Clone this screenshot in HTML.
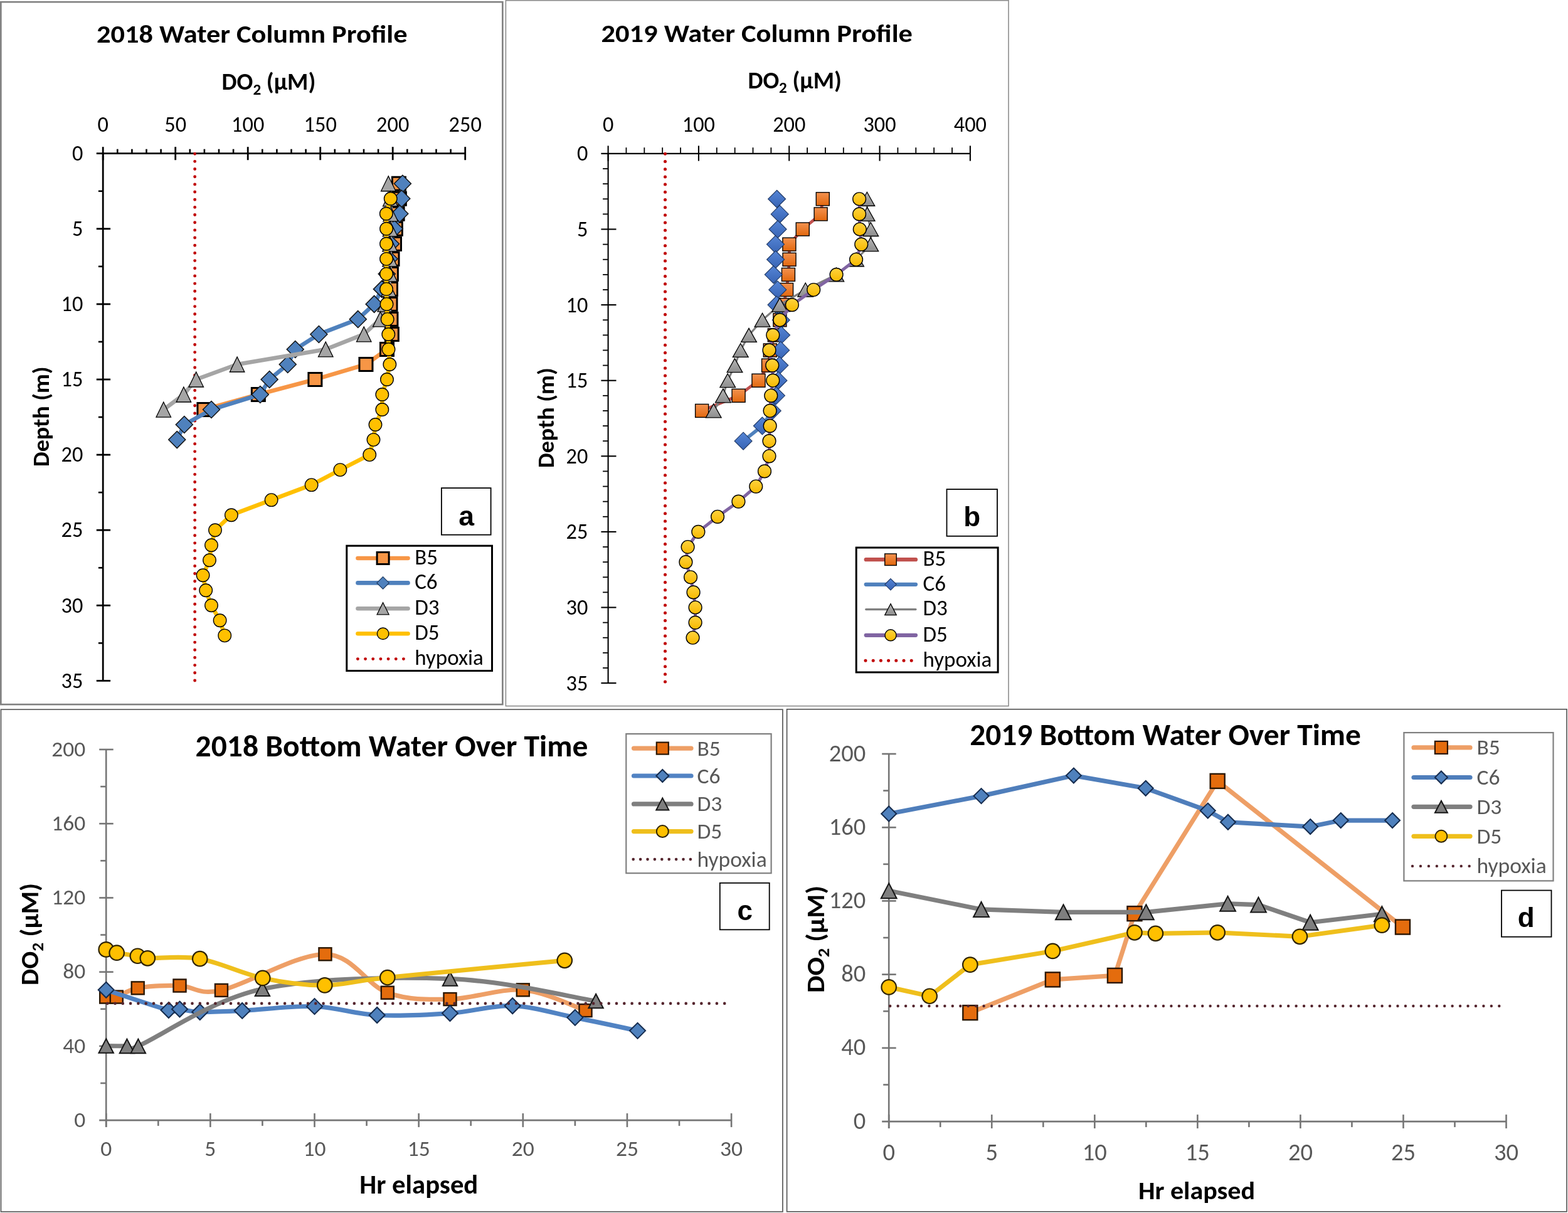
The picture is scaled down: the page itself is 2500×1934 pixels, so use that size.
<!DOCTYPE html>
<html><head><meta charset="utf-8"><title>Dissolved oxygen profiles</title>
<style>html,body{margin:0;padding:0;background:#fff;}svg{display:block;}</style>
</head><body>
<svg xmlns="http://www.w3.org/2000/svg" width="2500" height="1934" viewBox="0 0 2500 1934">
<rect x="0" y="0" width="2500" height="1934" fill="#fff"/>
<defs>
<linearGradient id="gOr" x1="0" y1="0" x2="0" y2="1"><stop offset="0" stop-color="#F49250"/><stop offset="1" stop-color="#E2680E"/></linearGradient>
<linearGradient id="gBl" x1="0" y1="0" x2="0" y2="1"><stop offset="0" stop-color="#5585D6"/><stop offset="1" stop-color="#3864B4"/></linearGradient>
<linearGradient id="gGr" x1="0" y1="0" x2="0" y2="1"><stop offset="0" stop-color="#B4B4B4"/><stop offset="1" stop-color="#8E8E8E"/></linearGradient>
<linearGradient id="gYe" x1="0" y1="0" x2="0" y2="1"><stop offset="0" stop-color="#FFD33F"/><stop offset="1" stop-color="#F7B900"/></linearGradient>
<filter id="soft" x="-2%" y="-2%" width="104%" height="104%"><feGaussianBlur stdDeviation="0.55"/></filter>
</defs>
<rect x="1.35" y="3.15" width="800" height="1120" fill="none" stroke="#7F7F7F" stroke-width="2.6"/>
<text x="154.1" y="68.1" font-family="Carlito, 'Liberation Sans', sans-serif" font-size="41.2" font-weight="bold" fill="#000" text-anchor="start" textLength="495.5" lengthAdjust="spacingAndGlyphs">2018 Water Column Profile</text>
<text x="353.6" y="143.2" font-family="Carlito, 'Liberation Sans', sans-serif" font-size="37.5" font-weight="bold" fill="#000" textLength="149.7" lengthAdjust="spacingAndGlyphs">DO<tspan font-size="24.75" dy="7.5">2</tspan><tspan dy="-7.5"> (µM)</tspan></text>
<text transform="translate(77.8 664.3) rotate(-90)" x="0" y="0" font-family="Carlito, 'Liberation Sans', sans-serif" font-size="37" font-weight="bold" fill="#000" text-anchor="middle" textLength="160" lengthAdjust="spacingAndGlyphs">Depth (m)</text>
<g stroke="#000" stroke-width="2.8" fill="none">
<path d="M153.8 244.7H741.7"/>
<path d="M164.2 244.7V1085.4"/>
<path d="M164.2 234.2V255.2"/>
<path d="M187.3 237.7V244.7" stroke-width="2.6"/>
<path d="M210.4 237.7V244.7" stroke-width="2.6"/>
<path d="M233.5 237.7V244.7" stroke-width="2.6"/>
<path d="M256.6 237.7V244.7" stroke-width="2.6"/>
<path d="M279.7 234.2V255.2"/>
<path d="M302.8 237.7V244.7" stroke-width="2.6"/>
<path d="M325.9 237.7V244.7" stroke-width="2.6"/>
<path d="M349 237.7V244.7" stroke-width="2.6"/>
<path d="M372.1 237.7V244.7" stroke-width="2.6"/>
<path d="M395.2 234.2V255.2"/>
<path d="M418.3 237.7V244.7" stroke-width="2.6"/>
<path d="M441.4 237.7V244.7" stroke-width="2.6"/>
<path d="M464.5 237.7V244.7" stroke-width="2.6"/>
<path d="M487.6 237.7V244.7" stroke-width="2.6"/>
<path d="M510.7 234.2V255.2"/>
<path d="M533.8 237.7V244.7" stroke-width="2.6"/>
<path d="M556.9 237.7V244.7" stroke-width="2.6"/>
<path d="M580 237.7V244.7" stroke-width="2.6"/>
<path d="M603.1 237.7V244.7" stroke-width="2.6"/>
<path d="M626.2 234.2V255.2"/>
<path d="M649.3 237.7V244.7" stroke-width="2.6"/>
<path d="M672.4 237.7V244.7" stroke-width="2.6"/>
<path d="M695.5 237.7V244.7" stroke-width="2.6"/>
<path d="M718.6 237.7V244.7" stroke-width="2.6"/>
<path d="M741.7 234.2V255.2"/>
<path d="M156.9 304.75H164.2" stroke-width="2.6"/>
<path d="M153.8 364.8H176.1"/>
<path d="M156.9 424.85H164.2" stroke-width="2.6"/>
<path d="M153.8 484.9H176.1"/>
<path d="M156.9 544.95H164.2" stroke-width="2.6"/>
<path d="M153.8 605H176.1"/>
<path d="M156.9 665.05H164.2" stroke-width="2.6"/>
<path d="M153.8 725.1H176.1"/>
<path d="M156.9 785.15H164.2" stroke-width="2.6"/>
<path d="M153.8 845.2H176.1"/>
<path d="M156.9 905.25H164.2" stroke-width="2.6"/>
<path d="M153.8 965.3H176.1"/>
<path d="M156.9 1025.35H164.2" stroke-width="2.6"/>
<path d="M153.8 1085.4H176.1"/>
</g>
<text x="164.2" y="210.1" font-family="Carlito, 'Liberation Sans', sans-serif" font-size="34.3" font-weight="normal" fill="#000" text-anchor="middle" textLength="17.39" lengthAdjust="spacingAndGlyphs">0</text>
<text x="279.7" y="210.1" font-family="Carlito, 'Liberation Sans', sans-serif" font-size="34.3" font-weight="normal" fill="#000" text-anchor="middle" textLength="34.78" lengthAdjust="spacingAndGlyphs">50</text>
<text x="395.2" y="210.1" font-family="Carlito, 'Liberation Sans', sans-serif" font-size="34.3" font-weight="normal" fill="#000" text-anchor="middle" textLength="52.17" lengthAdjust="spacingAndGlyphs">100</text>
<text x="510.7" y="210.1" font-family="Carlito, 'Liberation Sans', sans-serif" font-size="34.3" font-weight="normal" fill="#000" text-anchor="middle" textLength="52.17" lengthAdjust="spacingAndGlyphs">150</text>
<text x="626.2" y="210.1" font-family="Carlito, 'Liberation Sans', sans-serif" font-size="34.3" font-weight="normal" fill="#000" text-anchor="middle" textLength="52.17" lengthAdjust="spacingAndGlyphs">200</text>
<text x="741.7" y="210.1" font-family="Carlito, 'Liberation Sans', sans-serif" font-size="34.3" font-weight="normal" fill="#000" text-anchor="middle" textLength="52.17" lengthAdjust="spacingAndGlyphs">250</text>
<text x="132.4" y="255.9" font-family="Carlito, 'Liberation Sans', sans-serif" font-size="34.3" font-weight="normal" fill="#000" text-anchor="end" textLength="17.39" lengthAdjust="spacingAndGlyphs">0</text>
<text x="132.4" y="376" font-family="Carlito, 'Liberation Sans', sans-serif" font-size="34.3" font-weight="normal" fill="#000" text-anchor="end" textLength="17.39" lengthAdjust="spacingAndGlyphs">5</text>
<text x="132.4" y="496.1" font-family="Carlito, 'Liberation Sans', sans-serif" font-size="34.3" font-weight="normal" fill="#000" text-anchor="end" textLength="34.78" lengthAdjust="spacingAndGlyphs">10</text>
<text x="132.4" y="616.2" font-family="Carlito, 'Liberation Sans', sans-serif" font-size="34.3" font-weight="normal" fill="#000" text-anchor="end" textLength="34.78" lengthAdjust="spacingAndGlyphs">15</text>
<text x="132.4" y="736.3" font-family="Carlito, 'Liberation Sans', sans-serif" font-size="34.3" font-weight="normal" fill="#000" text-anchor="end" textLength="34.78" lengthAdjust="spacingAndGlyphs">20</text>
<text x="132.4" y="856.4" font-family="Carlito, 'Liberation Sans', sans-serif" font-size="34.3" font-weight="normal" fill="#000" text-anchor="end" textLength="34.78" lengthAdjust="spacingAndGlyphs">25</text>
<text x="132.4" y="976.5" font-family="Carlito, 'Liberation Sans', sans-serif" font-size="34.3" font-weight="normal" fill="#000" text-anchor="end" textLength="34.78" lengthAdjust="spacingAndGlyphs">30</text>
<text x="132.4" y="1096.6" font-family="Carlito, 'Liberation Sans', sans-serif" font-size="34.3" font-weight="normal" fill="#000" text-anchor="end" textLength="34.78" lengthAdjust="spacingAndGlyphs">35</text>
<path d="M310.65 245.2V1085.4" stroke="#C00000" stroke-width="4.9" stroke-linecap="round" stroke-dasharray="0 12.17" fill="none"/>
<path d="M635.9 292.74L636.83 316.76L633.59 340.78L630.82 364.8L628.97 388.82L625.51 412.84L623.89 436.86L622.97 460.88L622.5 484.9L623.43 508.92L624.81 532.94L616.96 556.96L583.46 580.98L502.38 605L411.83 629.02L325.44 653.04" fill="none" stroke="#F79646" stroke-width="6.6" stroke-linejoin="round" stroke-linecap="round"/>
<rect x="625.4" y="282.24" width="21" height="21" fill="#F79646" stroke="#000" stroke-width="3"/>
<rect x="626.33" y="306.26" width="21" height="21" fill="#F79646" stroke="#000" stroke-width="3"/>
<rect x="623.09" y="330.28" width="21" height="21" fill="#F79646" stroke="#000" stroke-width="3"/>
<rect x="620.32" y="354.3" width="21" height="21" fill="#F79646" stroke="#000" stroke-width="3"/>
<rect x="618.47" y="378.32" width="21" height="21" fill="#F79646" stroke="#000" stroke-width="3"/>
<rect x="615.01" y="402.34" width="21" height="21" fill="#F79646" stroke="#000" stroke-width="3"/>
<rect x="613.39" y="426.36" width="21" height="21" fill="#F79646" stroke="#000" stroke-width="3"/>
<rect x="612.47" y="450.38" width="21" height="21" fill="#F79646" stroke="#000" stroke-width="3"/>
<rect x="612" y="474.4" width="21" height="21" fill="#F79646" stroke="#000" stroke-width="3"/>
<rect x="612.93" y="498.42" width="21" height="21" fill="#F79646" stroke="#000" stroke-width="3"/>
<rect x="614.31" y="522.44" width="21" height="21" fill="#F79646" stroke="#000" stroke-width="3"/>
<rect x="606.46" y="546.46" width="21" height="21" fill="#F79646" stroke="#000" stroke-width="3"/>
<rect x="572.96" y="570.48" width="21" height="21" fill="#F79646" stroke="#000" stroke-width="3"/>
<rect x="491.88" y="594.5" width="21" height="21" fill="#F79646" stroke="#000" stroke-width="3"/>
<rect x="401.33" y="618.52" width="21" height="21" fill="#F79646" stroke="#000" stroke-width="3"/>
<rect x="314.94" y="642.54" width="21" height="21" fill="#F79646" stroke="#000" stroke-width="3"/>
<path d="M641.91 292.74L640.29 316.76L637.29 340.78L628.74 364.8L622.97 388.82L620.42 412.84L616.73 436.86L608.88 460.88L596.63 484.9L570.76 508.92L508.39 532.94L470.74 556.96L458.73 580.98L429.62 605L414.84 629.02L336.99 653.04L293.79 677.06L282.24 701.08" fill="none" stroke="#4F81BD" stroke-width="6.6" stroke-linejoin="round" stroke-linecap="round"/>
<path d="M641.91 279.24L655.41 292.74L641.91 306.24L628.41 292.74Z" fill="#4F81BD" stroke="#141414" stroke-width="1.5" stroke-linejoin="miter"/>
<path d="M640.29 303.26L653.79 316.76L640.29 330.26L626.79 316.76Z" fill="#4F81BD" stroke="#141414" stroke-width="1.5" stroke-linejoin="miter"/>
<path d="M637.29 327.28L650.79 340.78L637.29 354.28L623.79 340.78Z" fill="#4F81BD" stroke="#141414" stroke-width="1.5" stroke-linejoin="miter"/>
<path d="M628.74 351.3L642.24 364.8L628.74 378.3L615.24 364.8Z" fill="#4F81BD" stroke="#141414" stroke-width="1.5" stroke-linejoin="miter"/>
<path d="M622.97 375.32L636.47 388.82L622.97 402.32L609.47 388.82Z" fill="#4F81BD" stroke="#141414" stroke-width="1.5" stroke-linejoin="miter"/>
<path d="M620.42 399.34L633.92 412.84L620.42 426.34L606.92 412.84Z" fill="#4F81BD" stroke="#141414" stroke-width="1.5" stroke-linejoin="miter"/>
<path d="M616.73 423.36L630.23 436.86L616.73 450.36L603.23 436.86Z" fill="#4F81BD" stroke="#141414" stroke-width="1.5" stroke-linejoin="miter"/>
<path d="M608.88 447.38L622.38 460.88L608.88 474.38L595.38 460.88Z" fill="#4F81BD" stroke="#141414" stroke-width="1.5" stroke-linejoin="miter"/>
<path d="M596.63 471.4L610.13 484.9L596.63 498.4L583.13 484.9Z" fill="#4F81BD" stroke="#141414" stroke-width="1.5" stroke-linejoin="miter"/>
<path d="M570.76 495.42L584.26 508.92L570.76 522.42L557.26 508.92Z" fill="#4F81BD" stroke="#141414" stroke-width="1.5" stroke-linejoin="miter"/>
<path d="M508.39 519.44L521.89 532.94L508.39 546.44L494.89 532.94Z" fill="#4F81BD" stroke="#141414" stroke-width="1.5" stroke-linejoin="miter"/>
<path d="M470.74 543.46L484.24 556.96L470.74 570.46L457.24 556.96Z" fill="#4F81BD" stroke="#141414" stroke-width="1.5" stroke-linejoin="miter"/>
<path d="M458.73 567.48L472.23 580.98L458.73 594.48L445.23 580.98Z" fill="#4F81BD" stroke="#141414" stroke-width="1.5" stroke-linejoin="miter"/>
<path d="M429.62 591.5L443.12 605L429.62 618.5L416.12 605Z" fill="#4F81BD" stroke="#141414" stroke-width="1.5" stroke-linejoin="miter"/>
<path d="M414.84 615.52L428.34 629.02L414.84 642.52L401.34 629.02Z" fill="#4F81BD" stroke="#141414" stroke-width="1.5" stroke-linejoin="miter"/>
<path d="M336.99 639.54L350.49 653.04L336.99 666.54L323.49 653.04Z" fill="#4F81BD" stroke="#141414" stroke-width="1.5" stroke-linejoin="miter"/>
<path d="M293.79 663.56L307.29 677.06L293.79 690.56L280.29 677.06Z" fill="#4F81BD" stroke="#141414" stroke-width="1.5" stroke-linejoin="miter"/>
<path d="M282.24 687.58L295.74 701.08L282.24 714.58L268.74 701.08Z" fill="#4F81BD" stroke="#141414" stroke-width="1.5" stroke-linejoin="miter"/>
<path d="M619.27 292.74L622.27 316.76L622.74 340.78L622.04 364.8L621.58 388.82L621.58 412.84L621.58 436.86L619.5 460.88L613.73 484.9L606.33 508.92L580.23 532.94L519.25 556.96L378.11 580.98L312.73 605L292.87 629.02L260.76 653.04" fill="none" stroke="#A5A5A5" stroke-width="6.6" stroke-linejoin="round" stroke-linecap="round"/>
<path d="M619.27 280.74L631.02 304.74L607.52 304.74Z" fill="#A5A5A5" stroke="#000" stroke-width="1.3" stroke-linejoin="miter"/>
<path d="M622.27 304.76L634.02 328.76L610.52 328.76Z" fill="#A5A5A5" stroke="#000" stroke-width="1.3" stroke-linejoin="miter"/>
<path d="M622.74 328.78L634.49 352.78L610.99 352.78Z" fill="#A5A5A5" stroke="#000" stroke-width="1.3" stroke-linejoin="miter"/>
<path d="M622.04 352.8L633.79 376.8L610.29 376.8Z" fill="#A5A5A5" stroke="#000" stroke-width="1.3" stroke-linejoin="miter"/>
<path d="M621.58 376.82L633.33 400.82L609.83 400.82Z" fill="#A5A5A5" stroke="#000" stroke-width="1.3" stroke-linejoin="miter"/>
<path d="M621.58 400.84L633.33 424.84L609.83 424.84Z" fill="#A5A5A5" stroke="#000" stroke-width="1.3" stroke-linejoin="miter"/>
<path d="M621.58 424.86L633.33 448.86L609.83 448.86Z" fill="#A5A5A5" stroke="#000" stroke-width="1.3" stroke-linejoin="miter"/>
<path d="M619.5 448.88L631.25 472.88L607.75 472.88Z" fill="#A5A5A5" stroke="#000" stroke-width="1.3" stroke-linejoin="miter"/>
<path d="M613.73 472.9L625.48 496.9L601.98 496.9Z" fill="#A5A5A5" stroke="#000" stroke-width="1.3" stroke-linejoin="miter"/>
<path d="M606.33 496.92L618.08 520.92L594.58 520.92Z" fill="#A5A5A5" stroke="#000" stroke-width="1.3" stroke-linejoin="miter"/>
<path d="M580.23 520.94L591.98 544.94L568.48 544.94Z" fill="#A5A5A5" stroke="#000" stroke-width="1.3" stroke-linejoin="miter"/>
<path d="M519.25 544.96L531 568.96L507.5 568.96Z" fill="#A5A5A5" stroke="#000" stroke-width="1.3" stroke-linejoin="miter"/>
<path d="M378.11 568.98L389.86 592.98L366.36 592.98Z" fill="#A5A5A5" stroke="#000" stroke-width="1.3" stroke-linejoin="miter"/>
<path d="M312.73 593L324.48 617L300.98 617Z" fill="#A5A5A5" stroke="#000" stroke-width="1.3" stroke-linejoin="miter"/>
<path d="M292.87 617.02L304.62 641.02L281.12 641.02Z" fill="#A5A5A5" stroke="#000" stroke-width="1.3" stroke-linejoin="miter"/>
<path d="M260.76 641.04L272.51 665.04L249.01 665.04Z" fill="#A5A5A5" stroke="#000" stroke-width="1.3" stroke-linejoin="miter"/>
<path d="M622.74 316.76L615.81 340.78L616.04 364.8L616.04 388.82L616.04 412.84L616.04 436.86L616.04 460.88L616.5 484.9L617.65 508.92L619.27 532.94L619.5 556.96L621.35 580.98L616.96 605L609.34 629.02L609.34 653.04L598.48 677.06L595.48 701.08L589.24 725.1L542.35 749.12L496.61 773.14L432.62 797.16L368.87 821.18L342.99 845.2L336.99 869.22L333.99 893.24L323.59 917.26L328.21 941.28L336.99 965.3L350.62 989.32L358.24 1013.34" fill="none" stroke="#FFC000" stroke-width="6.6" stroke-linejoin="round" stroke-linecap="round"/>
<circle cx="622.74" cy="316.76" r="10.25" fill="#FFC000" stroke="#000" stroke-width="1.4"/>
<circle cx="615.81" cy="340.78" r="10.25" fill="#FFC000" stroke="#000" stroke-width="1.4"/>
<circle cx="616.04" cy="364.8" r="10.25" fill="#FFC000" stroke="#000" stroke-width="1.4"/>
<circle cx="616.04" cy="388.82" r="10.25" fill="#FFC000" stroke="#000" stroke-width="1.4"/>
<circle cx="616.04" cy="412.84" r="10.25" fill="#FFC000" stroke="#000" stroke-width="1.4"/>
<circle cx="616.04" cy="436.86" r="10.25" fill="#FFC000" stroke="#000" stroke-width="1.4"/>
<circle cx="616.04" cy="460.88" r="10.25" fill="#FFC000" stroke="#000" stroke-width="1.4"/>
<circle cx="616.5" cy="484.9" r="10.25" fill="#FFC000" stroke="#000" stroke-width="1.4"/>
<circle cx="617.65" cy="508.92" r="10.25" fill="#FFC000" stroke="#000" stroke-width="1.4"/>
<circle cx="619.27" cy="532.94" r="10.25" fill="#FFC000" stroke="#000" stroke-width="1.4"/>
<circle cx="619.5" cy="556.96" r="10.25" fill="#FFC000" stroke="#000" stroke-width="1.4"/>
<circle cx="621.35" cy="580.98" r="10.25" fill="#FFC000" stroke="#000" stroke-width="1.4"/>
<circle cx="616.96" cy="605" r="10.25" fill="#FFC000" stroke="#000" stroke-width="1.4"/>
<circle cx="609.34" cy="629.02" r="10.25" fill="#FFC000" stroke="#000" stroke-width="1.4"/>
<circle cx="609.34" cy="653.04" r="10.25" fill="#FFC000" stroke="#000" stroke-width="1.4"/>
<circle cx="598.48" cy="677.06" r="10.25" fill="#FFC000" stroke="#000" stroke-width="1.4"/>
<circle cx="595.48" cy="701.08" r="10.25" fill="#FFC000" stroke="#000" stroke-width="1.4"/>
<circle cx="589.24" cy="725.1" r="10.25" fill="#FFC000" stroke="#000" stroke-width="1.4"/>
<circle cx="542.35" cy="749.12" r="10.25" fill="#FFC000" stroke="#000" stroke-width="1.4"/>
<circle cx="496.61" cy="773.14" r="10.25" fill="#FFC000" stroke="#000" stroke-width="1.4"/>
<circle cx="432.62" cy="797.16" r="10.25" fill="#FFC000" stroke="#000" stroke-width="1.4"/>
<circle cx="368.87" cy="821.18" r="10.25" fill="#FFC000" stroke="#000" stroke-width="1.4"/>
<circle cx="342.99" cy="845.2" r="10.25" fill="#FFC000" stroke="#000" stroke-width="1.4"/>
<circle cx="336.99" cy="869.22" r="10.25" fill="#FFC000" stroke="#000" stroke-width="1.4"/>
<circle cx="333.99" cy="893.24" r="10.25" fill="#FFC000" stroke="#000" stroke-width="1.4"/>
<circle cx="323.59" cy="917.26" r="10.25" fill="#FFC000" stroke="#000" stroke-width="1.4"/>
<circle cx="328.21" cy="941.28" r="10.25" fill="#FFC000" stroke="#000" stroke-width="1.4"/>
<circle cx="336.99" cy="965.3" r="10.25" fill="#FFC000" stroke="#000" stroke-width="1.4"/>
<circle cx="350.62" cy="989.32" r="10.25" fill="#FFC000" stroke="#000" stroke-width="1.4"/>
<circle cx="358.24" cy="1013.34" r="10.25" fill="#FFC000" stroke="#000" stroke-width="1.4"/>
<rect x="703.9" y="778.1" width="78.7" height="74.6" fill="#fff" stroke="#000" stroke-width="1.8"/>
<text x="743.6" y="838.4" font-family="'Liberation Sans', Arial, sans-serif" font-size="44.5" font-weight="bold" fill="#000" text-anchor="middle">a</text>
<rect x="552.8" y="870.2" width="231.7" height="199.3" fill="#fff" stroke="#000" stroke-width="3"/>
<path d="M570.5 890H650.5" stroke="#F79646" stroke-width="6.6" stroke-linecap="round"/>
<rect x="601.1" y="880.5" width="19" height="19" fill="#F79646" stroke="#000" stroke-width="3"/>
<text x="661.2" y="899.8" font-family="Carlito, 'Liberation Sans', sans-serif" font-size="35" font-weight="normal" fill="#000" text-anchor="start" textLength="36.77" lengthAdjust="spacingAndGlyphs">B5</text>
<path d="M570.5 929.4H650.5" stroke="#4F81BD" stroke-width="6.6" stroke-linecap="round"/>
<path d="M610.6 919.65L620.35 929.4L610.6 939.15L600.85 929.4Z" fill="#4F81BD" stroke="#1F3A60" stroke-width="1.2" stroke-linejoin="miter"/>
<text x="661.2" y="939.2" font-family="Carlito, 'Liberation Sans', sans-serif" font-size="35" font-weight="normal" fill="#000" text-anchor="start" textLength="36.39" lengthAdjust="spacingAndGlyphs">C6</text>
<path d="M570.5 970.3H650.5" stroke="#A5A5A5" stroke-width="6.6" stroke-linecap="round"/>
<path d="M610.6 960.8L620.1 979.8L601.1 979.8Z" fill="#A5A5A5" stroke="#000" stroke-width="1.3" stroke-linejoin="miter"/>
<text x="661.2" y="980.1" font-family="Carlito, 'Liberation Sans', sans-serif" font-size="35" font-weight="normal" fill="#000" text-anchor="start" textLength="39.27" lengthAdjust="spacingAndGlyphs">D3</text>
<path d="M570.5 1010.3H650.5" stroke="#FFC000" stroke-width="6.6" stroke-linecap="round"/>
<circle cx="610.6" cy="1010.3" r="9.25" fill="#FFC000" stroke="#000" stroke-width="1.4"/>
<text x="661.2" y="1020.1" font-family="Carlito, 'Liberation Sans', sans-serif" font-size="35" font-weight="normal" fill="#000" text-anchor="start" textLength="39.27" lengthAdjust="spacingAndGlyphs">D5</text>
<path d="M570.4 1050.6H645" stroke="#C00000" stroke-width="4.9" stroke-linecap="round" stroke-dasharray="0 12.17"/>
<text x="661.2" y="1060.4" font-family="Carlito, 'Liberation Sans', sans-serif" font-size="35" font-weight="normal" fill="#000" text-anchor="start" textLength="109.69" lengthAdjust="spacingAndGlyphs">hypoxia</text>
<rect x="806.4" y="0.75" width="801.6" height="1124.9" fill="none" stroke="#8C8C8C" stroke-width="1.6"/>
<text x="958.5" y="66.8" font-family="Carlito, 'Liberation Sans', sans-serif" font-size="41.2" font-weight="bold" fill="#000" text-anchor="start" textLength="496.5" lengthAdjust="spacingAndGlyphs">2019 Water Column Profile</text>
<text x="1192.4" y="140.6" font-family="Carlito, 'Liberation Sans', sans-serif" font-size="37.5" font-weight="bold" fill="#000" textLength="149.5" lengthAdjust="spacingAndGlyphs">DO<tspan font-size="24.75" dy="7.5">2</tspan><tspan dy="-7.5"> (µM)</tspan></text>
<text transform="translate(883.2 666.2) rotate(-90)" x="0" y="0" font-family="Carlito, 'Liberation Sans', sans-serif" font-size="37" font-weight="bold" fill="#000" text-anchor="middle" textLength="160" lengthAdjust="spacingAndGlyphs">Depth (m)</text>
<g stroke="#000" stroke-width="2.1" fill="none">
<path d="M958.4 244.9H1546.88"/>
<path d="M969.6 244.9V1089.1"/>
<path d="M969.6 232.4V256.6"/>
<path d="M998.46 235.2V244.9" stroke-width="1.8"/>
<path d="M1027.33 235.2V244.9" stroke-width="1.8"/>
<path d="M1056.19 235.2V244.9" stroke-width="1.8"/>
<path d="M1085.06 235.2V244.9" stroke-width="1.8"/>
<path d="M1113.92 232.4V256.6"/>
<path d="M1142.78 235.2V244.9" stroke-width="1.8"/>
<path d="M1171.65 235.2V244.9" stroke-width="1.8"/>
<path d="M1200.51 235.2V244.9" stroke-width="1.8"/>
<path d="M1229.38 235.2V244.9" stroke-width="1.8"/>
<path d="M1258.24 232.4V256.6"/>
<path d="M1287.1 235.2V244.9" stroke-width="1.8"/>
<path d="M1315.97 235.2V244.9" stroke-width="1.8"/>
<path d="M1344.83 235.2V244.9" stroke-width="1.8"/>
<path d="M1373.7 235.2V244.9" stroke-width="1.8"/>
<path d="M1402.56 232.4V256.6"/>
<path d="M1431.42 235.2V244.9" stroke-width="1.8"/>
<path d="M1460.29 235.2V244.9" stroke-width="1.8"/>
<path d="M1489.15 235.2V244.9" stroke-width="1.8"/>
<path d="M1518.02 235.2V244.9" stroke-width="1.8"/>
<path d="M1546.88 232.4V256.6"/>
<path d="M961.1 269.02H969.6" stroke-width="1.8"/>
<path d="M961.1 293.14H969.6" stroke-width="1.8"/>
<path d="M961.1 317.26H969.6" stroke-width="1.8"/>
<path d="M961.1 341.38H969.6" stroke-width="1.8"/>
<path d="M958.4 365.5H982.5"/>
<path d="M961.1 389.62H969.6" stroke-width="1.8"/>
<path d="M961.1 413.74H969.6" stroke-width="1.8"/>
<path d="M961.1 437.86H969.6" stroke-width="1.8"/>
<path d="M961.1 461.98H969.6" stroke-width="1.8"/>
<path d="M958.4 486.1H982.5"/>
<path d="M961.1 510.22H969.6" stroke-width="1.8"/>
<path d="M961.1 534.34H969.6" stroke-width="1.8"/>
<path d="M961.1 558.46H969.6" stroke-width="1.8"/>
<path d="M961.1 582.58H969.6" stroke-width="1.8"/>
<path d="M958.4 606.7H982.5"/>
<path d="M961.1 630.82H969.6" stroke-width="1.8"/>
<path d="M961.1 654.94H969.6" stroke-width="1.8"/>
<path d="M961.1 679.06H969.6" stroke-width="1.8"/>
<path d="M961.1 703.18H969.6" stroke-width="1.8"/>
<path d="M958.4 727.3H982.5"/>
<path d="M961.1 751.42H969.6" stroke-width="1.8"/>
<path d="M961.1 775.54H969.6" stroke-width="1.8"/>
<path d="M961.1 799.66H969.6" stroke-width="1.8"/>
<path d="M961.1 823.78H969.6" stroke-width="1.8"/>
<path d="M958.4 847.9H982.5"/>
<path d="M961.1 872.02H969.6" stroke-width="1.8"/>
<path d="M961.1 896.14H969.6" stroke-width="1.8"/>
<path d="M961.1 920.26H969.6" stroke-width="1.8"/>
<path d="M961.1 944.38H969.6" stroke-width="1.8"/>
<path d="M958.4 968.5H982.5"/>
<path d="M961.1 992.62H969.6" stroke-width="1.8"/>
<path d="M961.1 1016.74H969.6" stroke-width="1.8"/>
<path d="M961.1 1040.86H969.6" stroke-width="1.8"/>
<path d="M961.1 1064.98H969.6" stroke-width="1.8"/>
<path d="M958.4 1089.1H982.5"/>
</g>
<text x="969.6" y="209.5" font-family="Carlito, 'Liberation Sans', sans-serif" font-size="34.3" font-weight="normal" fill="#000" text-anchor="middle" textLength="17.39" lengthAdjust="spacingAndGlyphs">0</text>
<text x="1113.92" y="209.5" font-family="Carlito, 'Liberation Sans', sans-serif" font-size="34.3" font-weight="normal" fill="#000" text-anchor="middle" textLength="52.17" lengthAdjust="spacingAndGlyphs">100</text>
<text x="1258.24" y="209.5" font-family="Carlito, 'Liberation Sans', sans-serif" font-size="34.3" font-weight="normal" fill="#000" text-anchor="middle" textLength="52.17" lengthAdjust="spacingAndGlyphs">200</text>
<text x="1402.56" y="209.5" font-family="Carlito, 'Liberation Sans', sans-serif" font-size="34.3" font-weight="normal" fill="#000" text-anchor="middle" textLength="52.17" lengthAdjust="spacingAndGlyphs">300</text>
<text x="1546.88" y="209.5" font-family="Carlito, 'Liberation Sans', sans-serif" font-size="34.3" font-weight="normal" fill="#000" text-anchor="middle" textLength="52.17" lengthAdjust="spacingAndGlyphs">400</text>
<text x="937.4" y="256.3" font-family="Carlito, 'Liberation Sans', sans-serif" font-size="34.3" font-weight="normal" fill="#000" text-anchor="end" textLength="17.39" lengthAdjust="spacingAndGlyphs">0</text>
<text x="937.4" y="376.9" font-family="Carlito, 'Liberation Sans', sans-serif" font-size="34.3" font-weight="normal" fill="#000" text-anchor="end" textLength="17.39" lengthAdjust="spacingAndGlyphs">5</text>
<text x="937.4" y="497.5" font-family="Carlito, 'Liberation Sans', sans-serif" font-size="34.3" font-weight="normal" fill="#000" text-anchor="end" textLength="34.78" lengthAdjust="spacingAndGlyphs">10</text>
<text x="937.4" y="618.1" font-family="Carlito, 'Liberation Sans', sans-serif" font-size="34.3" font-weight="normal" fill="#000" text-anchor="end" textLength="34.78" lengthAdjust="spacingAndGlyphs">15</text>
<text x="937.4" y="738.7" font-family="Carlito, 'Liberation Sans', sans-serif" font-size="34.3" font-weight="normal" fill="#000" text-anchor="end" textLength="34.78" lengthAdjust="spacingAndGlyphs">20</text>
<text x="937.4" y="859.3" font-family="Carlito, 'Liberation Sans', sans-serif" font-size="34.3" font-weight="normal" fill="#000" text-anchor="end" textLength="34.78" lengthAdjust="spacingAndGlyphs">25</text>
<text x="937.4" y="979.9" font-family="Carlito, 'Liberation Sans', sans-serif" font-size="34.3" font-weight="normal" fill="#000" text-anchor="end" textLength="34.78" lengthAdjust="spacingAndGlyphs">30</text>
<text x="937.4" y="1100.5" font-family="Carlito, 'Liberation Sans', sans-serif" font-size="34.3" font-weight="normal" fill="#000" text-anchor="end" textLength="34.78" lengthAdjust="spacingAndGlyphs">35</text>
<path d="M1060.52 245.3V1089.1" stroke="#C00000" stroke-width="5" stroke-linecap="round" stroke-dasharray="0 12.2" fill="none"/>
<path d="M1311.78 317.26L1308.61 341.38L1279.74 365.5L1258.38 389.62L1258.53 413.74L1256.94 437.86L1254.05 461.98L1249.58 486.1L1243.38 510.22L1234.86 534.34L1227.79 558.46L1225.05 582.58L1209.46 606.7L1177.57 630.82L1119.12 654.94" fill="none" stroke="#C0504D" stroke-width="4.8" stroke-linejoin="round" stroke-linecap="round"/>
<rect x="1301.28" y="306.76" width="21" height="21" fill="url(#gOr)" stroke="#000" stroke-width="1.4"/>
<rect x="1298.11" y="330.88" width="21" height="21" fill="url(#gOr)" stroke="#000" stroke-width="1.4"/>
<rect x="1269.24" y="355" width="21" height="21" fill="url(#gOr)" stroke="#000" stroke-width="1.4"/>
<rect x="1247.88" y="379.12" width="21" height="21" fill="url(#gOr)" stroke="#000" stroke-width="1.4"/>
<rect x="1248.03" y="403.24" width="21" height="21" fill="url(#gOr)" stroke="#000" stroke-width="1.4"/>
<rect x="1246.44" y="427.36" width="21" height="21" fill="url(#gOr)" stroke="#000" stroke-width="1.4"/>
<rect x="1243.55" y="451.48" width="21" height="21" fill="url(#gOr)" stroke="#000" stroke-width="1.4"/>
<rect x="1239.08" y="475.6" width="21" height="21" fill="url(#gOr)" stroke="#000" stroke-width="1.4"/>
<rect x="1232.88" y="499.72" width="21" height="21" fill="url(#gOr)" stroke="#000" stroke-width="1.4"/>
<rect x="1224.36" y="523.84" width="21" height="21" fill="url(#gOr)" stroke="#000" stroke-width="1.4"/>
<rect x="1217.29" y="547.96" width="21" height="21" fill="url(#gOr)" stroke="#000" stroke-width="1.4"/>
<rect x="1214.55" y="572.08" width="21" height="21" fill="url(#gOr)" stroke="#000" stroke-width="1.4"/>
<rect x="1198.96" y="596.2" width="21" height="21" fill="url(#gOr)" stroke="#000" stroke-width="1.4"/>
<rect x="1167.07" y="620.32" width="21" height="21" fill="url(#gOr)" stroke="#000" stroke-width="1.4"/>
<rect x="1108.62" y="644.44" width="21" height="21" fill="url(#gOr)" stroke="#000" stroke-width="1.4"/>
<path d="M1238.61 317.26L1243.23 341.38L1240.06 365.5L1236.45 389.62L1236.59 413.74L1233.27 437.86L1239.77 461.98L1238.04 486.1L1245.25 510.22L1245.54 534.34L1244.67 558.46L1242.8 582.58L1240.92 606.7L1237.46 630.82L1231.25 654.94L1215.38 679.06L1185.07 703.18" fill="none" stroke="#4F81BD" stroke-width="5.6" stroke-linejoin="round" stroke-linecap="round"/>
<path d="M1238.61 303.26L1252.61 317.26L1238.61 331.26L1224.61 317.26Z" fill="url(#gBl)" stroke="#1F3864" stroke-width="1.1" stroke-linejoin="miter"/>
<path d="M1243.23 327.38L1257.23 341.38L1243.23 355.38L1229.23 341.38Z" fill="url(#gBl)" stroke="#1F3864" stroke-width="1.1" stroke-linejoin="miter"/>
<path d="M1240.06 351.5L1254.06 365.5L1240.06 379.5L1226.06 365.5Z" fill="url(#gBl)" stroke="#1F3864" stroke-width="1.1" stroke-linejoin="miter"/>
<path d="M1236.45 375.62L1250.45 389.62L1236.45 403.62L1222.45 389.62Z" fill="url(#gBl)" stroke="#1F3864" stroke-width="1.1" stroke-linejoin="miter"/>
<path d="M1236.59 399.74L1250.59 413.74L1236.59 427.74L1222.59 413.74Z" fill="url(#gBl)" stroke="#1F3864" stroke-width="1.1" stroke-linejoin="miter"/>
<path d="M1233.27 423.86L1247.27 437.86L1233.27 451.86L1219.27 437.86Z" fill="url(#gBl)" stroke="#1F3864" stroke-width="1.1" stroke-linejoin="miter"/>
<path d="M1239.77 447.98L1253.77 461.98L1239.77 475.98L1225.77 461.98Z" fill="url(#gBl)" stroke="#1F3864" stroke-width="1.1" stroke-linejoin="miter"/>
<path d="M1238.04 472.1L1252.04 486.1L1238.04 500.1L1224.04 486.1Z" fill="url(#gBl)" stroke="#1F3864" stroke-width="1.1" stroke-linejoin="miter"/>
<path d="M1245.25 496.22L1259.25 510.22L1245.25 524.22L1231.25 510.22Z" fill="url(#gBl)" stroke="#1F3864" stroke-width="1.1" stroke-linejoin="miter"/>
<path d="M1245.54 520.34L1259.54 534.34L1245.54 548.34L1231.54 534.34Z" fill="url(#gBl)" stroke="#1F3864" stroke-width="1.1" stroke-linejoin="miter"/>
<path d="M1244.67 544.46L1258.67 558.46L1244.67 572.46L1230.67 558.46Z" fill="url(#gBl)" stroke="#1F3864" stroke-width="1.1" stroke-linejoin="miter"/>
<path d="M1242.8 568.58L1256.8 582.58L1242.8 596.58L1228.8 582.58Z" fill="url(#gBl)" stroke="#1F3864" stroke-width="1.1" stroke-linejoin="miter"/>
<path d="M1240.92 592.7L1254.92 606.7L1240.92 620.7L1226.92 606.7Z" fill="url(#gBl)" stroke="#1F3864" stroke-width="1.1" stroke-linejoin="miter"/>
<path d="M1237.46 616.82L1251.46 630.82L1237.46 644.82L1223.46 630.82Z" fill="url(#gBl)" stroke="#1F3864" stroke-width="1.1" stroke-linejoin="miter"/>
<path d="M1231.25 640.94L1245.25 654.94L1231.25 668.94L1217.25 654.94Z" fill="url(#gBl)" stroke="#1F3864" stroke-width="1.1" stroke-linejoin="miter"/>
<path d="M1215.38 665.06L1229.38 679.06L1215.38 693.06L1201.38 679.06Z" fill="url(#gBl)" stroke="#1F3864" stroke-width="1.1" stroke-linejoin="miter"/>
<path d="M1185.07 689.18L1199.07 703.18L1185.07 717.18L1171.07 703.18Z" fill="url(#gBl)" stroke="#1F3864" stroke-width="1.1" stroke-linejoin="miter"/>
<path d="M1382.36 317.26L1382.64 341.38L1388.27 365.5L1388.27 389.62L1365.04 413.74L1333.29 437.86L1284.22 461.98L1243.23 486.1L1215.52 510.22L1194.02 534.34L1180.74 558.46L1171.5 582.58L1160.25 606.7L1152.89 630.82L1137.73 654.94" fill="none" stroke="#7F7F7F" stroke-width="3.2" stroke-linejoin="round" stroke-linecap="round"/>
<path d="M1382.36 306.26L1394.71 328.26L1370.01 328.26Z" fill="url(#gGr)" stroke="#000" stroke-width="1.3" stroke-linejoin="miter"/>
<path d="M1382.64 330.38L1394.99 352.38L1370.29 352.38Z" fill="url(#gGr)" stroke="#000" stroke-width="1.3" stroke-linejoin="miter"/>
<path d="M1388.27 354.5L1400.62 376.5L1375.92 376.5Z" fill="url(#gGr)" stroke="#000" stroke-width="1.3" stroke-linejoin="miter"/>
<path d="M1388.27 378.62L1400.62 400.62L1375.92 400.62Z" fill="url(#gGr)" stroke="#000" stroke-width="1.3" stroke-linejoin="miter"/>
<path d="M1365.04 402.74L1377.39 424.74L1352.69 424.74Z" fill="url(#gGr)" stroke="#000" stroke-width="1.3" stroke-linejoin="miter"/>
<path d="M1333.29 426.86L1345.64 448.86L1320.94 448.86Z" fill="url(#gGr)" stroke="#000" stroke-width="1.3" stroke-linejoin="miter"/>
<path d="M1284.22 450.98L1296.57 472.98L1271.87 472.98Z" fill="url(#gGr)" stroke="#000" stroke-width="1.3" stroke-linejoin="miter"/>
<path d="M1243.23 475.1L1255.58 497.1L1230.88 497.1Z" fill="url(#gGr)" stroke="#000" stroke-width="1.3" stroke-linejoin="miter"/>
<path d="M1215.52 499.22L1227.87 521.22L1203.17 521.22Z" fill="url(#gGr)" stroke="#000" stroke-width="1.3" stroke-linejoin="miter"/>
<path d="M1194.02 523.34L1206.37 545.34L1181.67 545.34Z" fill="url(#gGr)" stroke="#000" stroke-width="1.3" stroke-linejoin="miter"/>
<path d="M1180.74 547.46L1193.09 569.46L1168.39 569.46Z" fill="url(#gGr)" stroke="#000" stroke-width="1.3" stroke-linejoin="miter"/>
<path d="M1171.5 571.58L1183.85 593.58L1159.15 593.58Z" fill="url(#gGr)" stroke="#000" stroke-width="1.3" stroke-linejoin="miter"/>
<path d="M1160.25 595.7L1172.6 617.7L1147.9 617.7Z" fill="url(#gGr)" stroke="#000" stroke-width="1.3" stroke-linejoin="miter"/>
<path d="M1152.89 619.82L1165.24 641.82L1140.54 641.82Z" fill="url(#gGr)" stroke="#000" stroke-width="1.3" stroke-linejoin="miter"/>
<path d="M1137.73 643.94L1150.08 665.94L1125.38 665.94Z" fill="url(#gGr)" stroke="#000" stroke-width="1.3" stroke-linejoin="miter"/>
<path d="M1370.09 317.26L1370.09 341.38L1370.81 365.5L1373.26 389.62L1365.04 413.74L1333.58 437.86L1297.21 461.98L1262.86 486.1L1243.38 510.22L1232.26 534.34L1226.49 558.46L1231.25 582.58L1232.26 606.7L1229.23 630.82L1227.64 654.94L1227.64 679.06L1226.49 703.18L1226.49 727.3L1218.98 751.42L1205.27 775.54L1177.42 799.66L1144.08 823.78L1113.34 847.9L1096.6 872.02L1093.43 896.14L1101.08 920.26L1105.55 944.38L1108.58 968.5L1108.58 992.62L1104.54 1016.74" fill="none" stroke="#8064A2" stroke-width="5" stroke-linejoin="round" stroke-linecap="round"/>
<circle cx="1370.09" cy="317.26" r="10.4" fill="url(#gYe)" stroke="#000" stroke-width="1.4"/>
<circle cx="1370.09" cy="341.38" r="10.4" fill="url(#gYe)" stroke="#000" stroke-width="1.4"/>
<circle cx="1370.81" cy="365.5" r="10.4" fill="url(#gYe)" stroke="#000" stroke-width="1.4"/>
<circle cx="1373.26" cy="389.62" r="10.4" fill="url(#gYe)" stroke="#000" stroke-width="1.4"/>
<circle cx="1365.04" cy="413.74" r="10.4" fill="url(#gYe)" stroke="#000" stroke-width="1.4"/>
<circle cx="1333.58" cy="437.86" r="10.4" fill="url(#gYe)" stroke="#000" stroke-width="1.4"/>
<circle cx="1297.21" cy="461.98" r="10.4" fill="url(#gYe)" stroke="#000" stroke-width="1.4"/>
<circle cx="1262.86" cy="486.1" r="10.4" fill="url(#gYe)" stroke="#000" stroke-width="1.4"/>
<circle cx="1243.38" cy="510.22" r="10.4" fill="url(#gYe)" stroke="#000" stroke-width="1.4"/>
<circle cx="1232.26" cy="534.34" r="10.4" fill="url(#gYe)" stroke="#000" stroke-width="1.4"/>
<circle cx="1226.49" cy="558.46" r="10.4" fill="url(#gYe)" stroke="#000" stroke-width="1.4"/>
<circle cx="1231.25" cy="582.58" r="10.4" fill="url(#gYe)" stroke="#000" stroke-width="1.4"/>
<circle cx="1232.26" cy="606.7" r="10.4" fill="url(#gYe)" stroke="#000" stroke-width="1.4"/>
<circle cx="1229.23" cy="630.82" r="10.4" fill="url(#gYe)" stroke="#000" stroke-width="1.4"/>
<circle cx="1227.64" cy="654.94" r="10.4" fill="url(#gYe)" stroke="#000" stroke-width="1.4"/>
<circle cx="1227.64" cy="679.06" r="10.4" fill="url(#gYe)" stroke="#000" stroke-width="1.4"/>
<circle cx="1226.49" cy="703.18" r="10.4" fill="url(#gYe)" stroke="#000" stroke-width="1.4"/>
<circle cx="1226.49" cy="727.3" r="10.4" fill="url(#gYe)" stroke="#000" stroke-width="1.4"/>
<circle cx="1218.98" cy="751.42" r="10.4" fill="url(#gYe)" stroke="#000" stroke-width="1.4"/>
<circle cx="1205.27" cy="775.54" r="10.4" fill="url(#gYe)" stroke="#000" stroke-width="1.4"/>
<circle cx="1177.42" cy="799.66" r="10.4" fill="url(#gYe)" stroke="#000" stroke-width="1.4"/>
<circle cx="1144.08" cy="823.78" r="10.4" fill="url(#gYe)" stroke="#000" stroke-width="1.4"/>
<circle cx="1113.34" cy="847.9" r="10.4" fill="url(#gYe)" stroke="#000" stroke-width="1.4"/>
<circle cx="1096.6" cy="872.02" r="10.4" fill="url(#gYe)" stroke="#000" stroke-width="1.4"/>
<circle cx="1093.43" cy="896.14" r="10.4" fill="url(#gYe)" stroke="#000" stroke-width="1.4"/>
<circle cx="1101.08" cy="920.26" r="10.4" fill="url(#gYe)" stroke="#000" stroke-width="1.4"/>
<circle cx="1105.55" cy="944.38" r="10.4" fill="url(#gYe)" stroke="#000" stroke-width="1.4"/>
<circle cx="1108.58" cy="968.5" r="10.4" fill="url(#gYe)" stroke="#000" stroke-width="1.4"/>
<circle cx="1108.58" cy="992.62" r="10.4" fill="url(#gYe)" stroke="#000" stroke-width="1.4"/>
<circle cx="1104.54" cy="1016.74" r="10.4" fill="url(#gYe)" stroke="#000" stroke-width="1.4"/>
<rect x="1509.5" y="780.1" width="80.5" height="74.7" fill="#fff" stroke="#000" stroke-width="1.8"/>
<text x="1549.8" y="838.8" font-family="'Liberation Sans', Arial, sans-serif" font-size="44" font-weight="bold" fill="#000" text-anchor="middle">b</text>
<rect x="1365.2" y="873.1" width="225.9" height="198.8" fill="#fff" stroke="#000" stroke-width="3"/>
<path d="M1380.7 892.2H1460" stroke="#C0504D" stroke-width="6.2" stroke-linecap="round"/>
<rect x="1410.75" y="882.95" width="18.5" height="18.5" fill="url(#gOr)" stroke="#000" stroke-width="1.4"/>
<text x="1471.5" y="902" font-family="Carlito, 'Liberation Sans', sans-serif" font-size="35" font-weight="normal" fill="#000" text-anchor="start" textLength="36.77" lengthAdjust="spacingAndGlyphs">B5</text>
<path d="M1380.7 931.8H1460" stroke="#4F81BD" stroke-width="6.2" stroke-linecap="round"/>
<path d="M1420 922.55L1429.25 931.8L1420 941.05L1410.75 931.8Z" fill="url(#gBl)" stroke="#1F3864" stroke-width="1.1" stroke-linejoin="miter"/>
<text x="1471.5" y="941.6" font-family="Carlito, 'Liberation Sans', sans-serif" font-size="35" font-weight="normal" fill="#000" text-anchor="start" textLength="36.39" lengthAdjust="spacingAndGlyphs">C6</text>
<path d="M1380.7 971.6H1460" stroke="#7F7F7F" stroke-width="3.2" stroke-linecap="round"/>
<path d="M1420 962.6L1429.25 980.6L1410.75 980.6Z" fill="url(#gGr)" stroke="#000" stroke-width="1.3" stroke-linejoin="miter"/>
<text x="1471.5" y="981.4" font-family="Carlito, 'Liberation Sans', sans-serif" font-size="35" font-weight="normal" fill="#000" text-anchor="start" textLength="39.27" lengthAdjust="spacingAndGlyphs">D3</text>
<path d="M1380.7 1012.8H1460" stroke="#8064A2" stroke-width="6.2" stroke-linecap="round"/>
<circle cx="1420" cy="1012.8" r="9" fill="url(#gYe)" stroke="#000" stroke-width="1.4"/>
<text x="1471.5" y="1022.6" font-family="Carlito, 'Liberation Sans', sans-serif" font-size="35" font-weight="normal" fill="#000" text-anchor="start" textLength="39.27" lengthAdjust="spacingAndGlyphs">D5</text>
<path d="M1380 1053.3H1455" stroke="#C00000" stroke-width="5" stroke-linecap="round" stroke-dasharray="0 12.2"/>
<text x="1471.5" y="1063.1" font-family="Carlito, 'Liberation Sans', sans-serif" font-size="35" font-weight="normal" fill="#000" text-anchor="start" textLength="109.69" lengthAdjust="spacingAndGlyphs">hypoxia</text>
<g filter="url(#soft)">
<rect x="1.5" y="1131.2" width="1246.4" height="800.8" fill="none" stroke="#5A5A5A" stroke-width="1.7"/>
<text x="311.6" y="1205.7" font-family="Carlito, 'Liberation Sans', sans-serif" font-size="48" font-weight="bold" fill="#000" text-anchor="start" textLength="625.8" lengthAdjust="spacingAndGlyphs">2018 Bottom Water Over Time</text>
<text x="573.3" y="1902.9" font-family="Carlito, 'Liberation Sans', sans-serif" font-size="42" font-weight="bold" fill="#000" text-anchor="start" textLength="189" lengthAdjust="spacingAndGlyphs">Hr elapsed</text>
<text transform="translate(60.8 1571) rotate(-90)" x="0" y="0" font-family="Carlito, 'Liberation Sans', sans-serif" font-size="41" font-weight="bold" fill="#000" textLength="163" lengthAdjust="spacingAndGlyphs">DO<tspan font-size="27.06" dy="8.2">2</tspan><tspan dy="-8.2"> (µM)</tspan></text>
<g stroke="#747474" stroke-width="2.6" fill="none">
<path d="M158.2 1786.1H1166.1"/>
<path d="M169.2 1195V1797.1"/>
<path d="M169.2 1775.1V1797.1"/>
<path d="M252.27 1786.1V1795.1"/>
<path d="M335.35 1775.1V1797.1"/>
<path d="M418.42 1786.1V1795.1"/>
<path d="M501.5 1775.1V1797.1"/>
<path d="M584.57 1786.1V1795.1"/>
<path d="M667.65 1775.1V1797.1"/>
<path d="M750.72 1786.1V1795.1"/>
<path d="M833.8 1775.1V1797.1"/>
<path d="M916.88 1786.1V1795.1"/>
<path d="M999.95 1775.1V1797.1"/>
<path d="M1083.02 1786.1V1795.1"/>
<path d="M1166.1 1775.1V1797.1"/>
<path d="M160.2 1726.99H169.2"/>
<path d="M158.2 1667.88H180.7"/>
<path d="M160.2 1608.77H169.2"/>
<path d="M158.2 1549.66H180.7"/>
<path d="M160.2 1490.55H169.2"/>
<path d="M158.2 1431.44H180.7"/>
<path d="M160.2 1372.33H169.2"/>
<path d="M158.2 1313.22H180.7"/>
<path d="M160.2 1254.11H169.2"/>
<path d="M158.2 1195H180.7"/>
</g>
<text x="169.2" y="1842.6" font-family="Carlito, 'Liberation Sans', sans-serif" font-size="35.5" font-weight="normal" fill="#595959" text-anchor="middle" textLength="18" lengthAdjust="spacingAndGlyphs">0</text>
<text x="335.35" y="1842.6" font-family="Carlito, 'Liberation Sans', sans-serif" font-size="35.5" font-weight="normal" fill="#595959" text-anchor="middle" textLength="18" lengthAdjust="spacingAndGlyphs">5</text>
<text x="501.5" y="1842.6" font-family="Carlito, 'Liberation Sans', sans-serif" font-size="35.5" font-weight="normal" fill="#595959" text-anchor="middle" textLength="36" lengthAdjust="spacingAndGlyphs">10</text>
<text x="667.65" y="1842.6" font-family="Carlito, 'Liberation Sans', sans-serif" font-size="35.5" font-weight="normal" fill="#595959" text-anchor="middle" textLength="36" lengthAdjust="spacingAndGlyphs">15</text>
<text x="833.8" y="1842.6" font-family="Carlito, 'Liberation Sans', sans-serif" font-size="35.5" font-weight="normal" fill="#595959" text-anchor="middle" textLength="36" lengthAdjust="spacingAndGlyphs">20</text>
<text x="999.95" y="1842.6" font-family="Carlito, 'Liberation Sans', sans-serif" font-size="35.5" font-weight="normal" fill="#595959" text-anchor="middle" textLength="36" lengthAdjust="spacingAndGlyphs">25</text>
<text x="1166.1" y="1842.6" font-family="Carlito, 'Liberation Sans', sans-serif" font-size="35.5" font-weight="normal" fill="#595959" text-anchor="middle" textLength="36" lengthAdjust="spacingAndGlyphs">30</text>
<text x="136.3" y="1796.9" font-family="Carlito, 'Liberation Sans', sans-serif" font-size="35.5" font-weight="normal" fill="#595959" text-anchor="end" textLength="18" lengthAdjust="spacingAndGlyphs">0</text>
<text x="136.3" y="1678.68" font-family="Carlito, 'Liberation Sans', sans-serif" font-size="35.5" font-weight="normal" fill="#595959" text-anchor="end" textLength="36" lengthAdjust="spacingAndGlyphs">40</text>
<text x="136.3" y="1560.46" font-family="Carlito, 'Liberation Sans', sans-serif" font-size="35.5" font-weight="normal" fill="#595959" text-anchor="end" textLength="36" lengthAdjust="spacingAndGlyphs">80</text>
<text x="136.3" y="1442.24" font-family="Carlito, 'Liberation Sans', sans-serif" font-size="35.5" font-weight="normal" fill="#595959" text-anchor="end" textLength="54" lengthAdjust="spacingAndGlyphs">120</text>
<text x="136.3" y="1324.02" font-family="Carlito, 'Liberation Sans', sans-serif" font-size="35.5" font-weight="normal" fill="#595959" text-anchor="end" textLength="54" lengthAdjust="spacingAndGlyphs">160</text>
<text x="136.3" y="1205.8" font-family="Carlito, 'Liberation Sans', sans-serif" font-size="35.5" font-weight="normal" fill="#595959" text-anchor="end" textLength="54" lengthAdjust="spacingAndGlyphs">200</text>
<path d="M169.2 1589.56C171.97 1589.56 177.4 1591.92 185.81 1589.56C194.23 1587.19 202.93 1578.38 219.71 1575.37C236.49 1572.37 264.29 1570.94 286.5 1571.53C308.71 1572.12 314.3 1587.29 352.96 1578.92C391.62 1570.55 474.31 1520.65 518.45 1521.29C562.59 1521.93 584.63 1570.79 617.8 1582.76C650.98 1594.73 681.5 1593.84 717.49 1593.11C753.49 1592.37 797.8 1575.32 833.8 1578.33C869.8 1581.33 916.88 1605.67 933.49 1611.13" fill="none" stroke="#EE9F66" stroke-width="7.2" stroke-linejoin="round" stroke-linecap="round"/>
<rect x="159.2" y="1579.56" width="20" height="20" fill="#E46C0A" stroke="#2A1606" stroke-width="2.4"/>
<rect x="175.81" y="1579.56" width="20" height="20" fill="#E46C0A" stroke="#2A1606" stroke-width="2.4"/>
<rect x="209.71" y="1565.37" width="20" height="20" fill="#E46C0A" stroke="#2A1606" stroke-width="2.4"/>
<rect x="276.5" y="1561.53" width="20" height="20" fill="#E46C0A" stroke="#2A1606" stroke-width="2.4"/>
<rect x="342.96" y="1568.92" width="20" height="20" fill="#E46C0A" stroke="#2A1606" stroke-width="2.4"/>
<rect x="508.45" y="1511.29" width="20" height="20" fill="#E46C0A" stroke="#2A1606" stroke-width="2.4"/>
<rect x="607.8" y="1572.76" width="20" height="20" fill="#E46C0A" stroke="#2A1606" stroke-width="2.4"/>
<rect x="707.49" y="1583.11" width="20" height="20" fill="#E46C0A" stroke="#2A1606" stroke-width="2.4"/>
<rect x="823.8" y="1568.33" width="20" height="20" fill="#E46C0A" stroke="#2A1606" stroke-width="2.4"/>
<rect x="923.49" y="1601.13" width="20" height="20" fill="#E46C0A" stroke="#2A1606" stroke-width="2.4"/>
<path d="M169.2 1578.33C185.81 1583.7 249.34 1605.42 268.89 1610.54C288.44 1615.67 278.19 1608.57 286.5 1609.07C294.81 1609.56 302.12 1613.1 318.74 1613.5C335.35 1613.89 355.73 1612.91 386.19 1611.43C416.65 1609.95 465.67 1603.45 501.5 1604.63C537.33 1605.81 565.19 1616.7 601.19 1618.52C637.19 1620.35 681.5 1618.03 717.49 1615.57C753.49 1613.1 783.95 1602.61 817.18 1603.75C850.41 1604.88 883.64 1615.76 916.88 1622.37C950.11 1628.97 999.95 1639.85 1016.56 1643.35" fill="none" stroke="#5183C3" stroke-width="7.2" stroke-linejoin="round" stroke-linecap="round"/>
<path d="M169.2 1565.83L181.7 1578.33L169.2 1590.83L156.7 1578.33Z" fill="#4F81BD" stroke="#142C4E" stroke-width="2" stroke-linejoin="miter"/>
<path d="M268.89 1598.04L281.39 1610.54L268.89 1623.04L256.39 1610.54Z" fill="#4F81BD" stroke="#142C4E" stroke-width="2" stroke-linejoin="miter"/>
<path d="M286.5 1596.57L299 1609.07L286.5 1621.57L274 1609.07Z" fill="#4F81BD" stroke="#142C4E" stroke-width="2" stroke-linejoin="miter"/>
<path d="M318.74 1601L331.24 1613.5L318.74 1626L306.24 1613.5Z" fill="#4F81BD" stroke="#142C4E" stroke-width="2" stroke-linejoin="miter"/>
<path d="M386.19 1598.93L398.69 1611.43L386.19 1623.93L373.69 1611.43Z" fill="#4F81BD" stroke="#142C4E" stroke-width="2" stroke-linejoin="miter"/>
<path d="M501.5 1592.13L514 1604.63L501.5 1617.13L489 1604.63Z" fill="#4F81BD" stroke="#142C4E" stroke-width="2" stroke-linejoin="miter"/>
<path d="M601.19 1606.02L613.69 1618.52L601.19 1631.02L588.69 1618.52Z" fill="#4F81BD" stroke="#142C4E" stroke-width="2" stroke-linejoin="miter"/>
<path d="M717.49 1603.07L729.99 1615.57L717.49 1628.07L704.99 1615.57Z" fill="#4F81BD" stroke="#142C4E" stroke-width="2" stroke-linejoin="miter"/>
<path d="M817.18 1591.25L829.68 1603.75L817.18 1616.25L804.68 1603.75Z" fill="#4F81BD" stroke="#142C4E" stroke-width="2" stroke-linejoin="miter"/>
<path d="M916.88 1609.87L929.38 1622.37L916.88 1634.87L904.38 1622.37Z" fill="#4F81BD" stroke="#142C4E" stroke-width="2" stroke-linejoin="miter"/>
<path d="M1016.56 1630.85L1029.06 1643.35L1016.56 1655.85L1004.06 1643.35Z" fill="#4F81BD" stroke="#142C4E" stroke-width="2" stroke-linejoin="miter"/>
<path d="M169.2 1667.58C174.74 1667.63 193.9 1667.83 202.43 1667.88C210.96 1667.93 184.38 1683.05 220.37 1667.88C256.37 1652.71 335.57 1594.73 418.42 1576.85C501.28 1558.97 628.88 1557.39 717.49 1560.6C806.11 1563.8 911.34 1590.15 950.11 1596.06" fill="none" stroke="#7F7F7F" stroke-width="7.2" stroke-linejoin="round" stroke-linecap="round"/>
<path d="M169.2 1656.33L180.9 1678.83L157.5 1678.83Z" fill="#7F7F7F" stroke="#141414" stroke-width="2" stroke-linejoin="miter"/>
<path d="M202.43 1656.63L214.13 1679.13L190.73 1679.13Z" fill="#7F7F7F" stroke="#141414" stroke-width="2" stroke-linejoin="miter"/>
<path d="M220.37 1656.63L232.07 1679.13L208.67 1679.13Z" fill="#7F7F7F" stroke="#141414" stroke-width="2" stroke-linejoin="miter"/>
<path d="M418.42 1565.6L430.12 1588.1L406.72 1588.1Z" fill="#7F7F7F" stroke="#141414" stroke-width="2" stroke-linejoin="miter"/>
<path d="M717.49 1549.35L729.19 1571.85L705.79 1571.85Z" fill="#7F7F7F" stroke="#141414" stroke-width="2" stroke-linejoin="miter"/>
<path d="M950.11 1584.81L961.81 1607.31L938.4 1607.31Z" fill="#7F7F7F" stroke="#141414" stroke-width="2" stroke-linejoin="miter"/>
<path d="M169.2 1513.9C172.02 1514.79 177.78 1517.49 186.15 1519.22C194.51 1520.94 211.18 1522.81 219.38 1524.24C227.57 1525.67 218.77 1527.05 235.33 1527.79C251.89 1528.53 288.16 1523.41 318.74 1528.68C349.31 1533.95 385.58 1552.37 418.76 1559.41C451.93 1566.46 484.61 1571.09 517.78 1570.94C550.96 1570.79 554.06 1565.13 617.8 1558.53C681.55 1551.93 853.18 1535.87 900.26 1531.34" fill="none" stroke="#EFBF1E" stroke-width="7.2" stroke-linejoin="round" stroke-linecap="round"/>
<circle cx="169.2" cy="1513.9" r="11.75" fill="#FFC000" stroke="#2E2400" stroke-width="2.2"/>
<circle cx="186.15" cy="1519.22" r="11.75" fill="#FFC000" stroke="#2E2400" stroke-width="2.2"/>
<circle cx="219.38" cy="1524.24" r="11.75" fill="#FFC000" stroke="#2E2400" stroke-width="2.2"/>
<circle cx="235.33" cy="1527.79" r="11.75" fill="#FFC000" stroke="#2E2400" stroke-width="2.2"/>
<circle cx="318.74" cy="1528.68" r="11.75" fill="#FFC000" stroke="#2E2400" stroke-width="2.2"/>
<circle cx="418.76" cy="1559.41" r="11.75" fill="#FFC000" stroke="#2E2400" stroke-width="2.2"/>
<circle cx="517.78" cy="1570.94" r="11.75" fill="#FFC000" stroke="#2E2400" stroke-width="2.2"/>
<circle cx="617.8" cy="1558.53" r="11.75" fill="#FFC000" stroke="#2E2400" stroke-width="2.2"/>
<circle cx="900.26" cy="1531.34" r="11.75" fill="#FFC000" stroke="#2E2400" stroke-width="2.2"/>
<path d="M171.2 1599.9H1165" stroke="#55262F" stroke-width="4.6" stroke-linecap="round" stroke-dasharray="0 12.3" fill="none"/>
<rect x="998.3" y="1170.1" width="231.3" height="222.1" fill="#fff" stroke="#7F7F7F" stroke-width="2.2"/>
<path d="M1010.5 1193.1H1102" stroke="#EE9F66" stroke-width="7.2" stroke-linecap="round"/>
<rect x="1046.8" y="1183.6" width="19" height="19" fill="#E46C0A" stroke="#2A1606" stroke-width="2.2"/>
<text x="1111.5" y="1204.6" font-family="Carlito, 'Liberation Sans', sans-serif" font-size="35.5" font-weight="normal" fill="#595959" text-anchor="start" textLength="37.31" lengthAdjust="spacingAndGlyphs">B5</text>
<path d="M1010.5 1237H1102" stroke="#5183C3" stroke-width="7.2" stroke-linecap="round"/>
<path d="M1056.3 1227L1066.3 1237L1056.3 1247L1046.3 1237Z" fill="#4F81BD" stroke="#142C4E" stroke-width="2" stroke-linejoin="miter"/>
<text x="1111.5" y="1248.5" font-family="Carlito, 'Liberation Sans', sans-serif" font-size="35.5" font-weight="normal" fill="#595959" text-anchor="start" textLength="36.92" lengthAdjust="spacingAndGlyphs">C6</text>
<path d="M1010.5 1281.9H1102" stroke="#7F7F7F" stroke-width="7.2" stroke-linecap="round"/>
<path d="M1056.3 1272.4L1066.3 1291.4L1046.3 1291.4Z" fill="#7F7F7F" stroke="#141414" stroke-width="2" stroke-linejoin="miter"/>
<text x="1111.5" y="1293.4" font-family="Carlito, 'Liberation Sans', sans-serif" font-size="35.5" font-weight="normal" fill="#595959" text-anchor="start" textLength="39.84" lengthAdjust="spacingAndGlyphs">D3</text>
<path d="M1010.5 1325.6H1102" stroke="#EFBF1E" stroke-width="7.2" stroke-linecap="round"/>
<circle cx="1056.3" cy="1325.6" r="9.5" fill="#FFC000" stroke="#2E2400" stroke-width="2"/>
<text x="1111.5" y="1337.1" font-family="Carlito, 'Liberation Sans', sans-serif" font-size="35.5" font-weight="normal" fill="#595959" text-anchor="start" textLength="39.84" lengthAdjust="spacingAndGlyphs">D5</text>
<path d="M1009.7 1370.1H1102" stroke="#55262F" stroke-width="4.6" stroke-linecap="round" stroke-dasharray="0 11.4"/>
<text x="1111.5" y="1381.6" font-family="Carlito, 'Liberation Sans', sans-serif" font-size="35.5" font-weight="normal" fill="#595959" text-anchor="start" textLength="111.27" lengthAdjust="spacingAndGlyphs">hypoxia</text>
<rect x="1147.8" y="1407.8" width="78.9" height="74.5" fill="#fff" stroke="#000" stroke-width="1.8"/>
<text x="1187.7" y="1466.5" font-family="'Liberation Sans', Arial, sans-serif" font-size="44" font-weight="bold" fill="#000" text-anchor="middle">c</text>
</g>
<g filter="url(#soft)">
<rect x="1254.6" y="1130.8" width="1243.4" height="801" fill="none" stroke="#505050" stroke-width="1.6"/>
<text x="1546.2" y="1187.8" font-family="Carlito, 'Liberation Sans', sans-serif" font-size="48" font-weight="bold" fill="#000" text-anchor="start" textLength="623.7" lengthAdjust="spacingAndGlyphs">2019 Bottom Water Over Time</text>
<text x="1815" y="1911.8" font-family="Carlito, 'Liberation Sans', sans-serif" font-size="41" font-weight="bold" fill="#000" text-anchor="start" textLength="186" lengthAdjust="spacingAndGlyphs">Hr elapsed</text>
<text transform="translate(1314 1583) rotate(-90)" x="0" y="0" font-family="Carlito, 'Liberation Sans', sans-serif" font-size="41" font-weight="bold" fill="#000" textLength="171" lengthAdjust="spacingAndGlyphs">DO<tspan font-size="27.06" dy="8.2">2</tspan><tspan dy="-8.2"> (µM)</tspan></text>
<g stroke="#747474" stroke-width="2.6" fill="none">
<path d="M1406.2 1788.1H2401.5"/>
<path d="M1417.2 1202V1799.1"/>
<path d="M1417.2 1777.1V1799.1"/>
<path d="M1499.23 1788.1V1797.1"/>
<path d="M1581.25 1777.1V1799.1"/>
<path d="M1663.28 1788.1V1797.1"/>
<path d="M1745.3 1777.1V1799.1"/>
<path d="M1827.33 1788.1V1797.1"/>
<path d="M1909.35 1777.1V1799.1"/>
<path d="M1991.38 1788.1V1797.1"/>
<path d="M2073.4 1777.1V1799.1"/>
<path d="M2155.43 1788.1V1797.1"/>
<path d="M2237.45 1777.1V1799.1"/>
<path d="M2319.48 1788.1V1797.1"/>
<path d="M2401.5 1777.1V1799.1"/>
<path d="M1408.2 1729.49H1417.2"/>
<path d="M1406.2 1670.88H1428.7"/>
<path d="M1408.2 1612.27H1417.2"/>
<path d="M1406.2 1553.66H1428.7"/>
<path d="M1408.2 1495.05H1417.2"/>
<path d="M1406.2 1436.44H1428.7"/>
<path d="M1408.2 1377.83H1417.2"/>
<path d="M1406.2 1319.22H1428.7"/>
<path d="M1408.2 1260.61H1417.2"/>
<path d="M1406.2 1202H1428.7"/>
</g>
<text x="1417.2" y="1850.3" font-family="Carlito, 'Liberation Sans', sans-serif" font-size="38.5" font-weight="normal" fill="#595959" text-anchor="middle" textLength="19.52" lengthAdjust="spacingAndGlyphs">0</text>
<text x="1581.25" y="1850.3" font-family="Carlito, 'Liberation Sans', sans-serif" font-size="38.5" font-weight="normal" fill="#595959" text-anchor="middle" textLength="19.52" lengthAdjust="spacingAndGlyphs">5</text>
<text x="1745.3" y="1850.3" font-family="Carlito, 'Liberation Sans', sans-serif" font-size="38.5" font-weight="normal" fill="#595959" text-anchor="middle" textLength="39.03" lengthAdjust="spacingAndGlyphs">10</text>
<text x="1909.35" y="1850.3" font-family="Carlito, 'Liberation Sans', sans-serif" font-size="38.5" font-weight="normal" fill="#595959" text-anchor="middle" textLength="39.03" lengthAdjust="spacingAndGlyphs">15</text>
<text x="2073.4" y="1850.3" font-family="Carlito, 'Liberation Sans', sans-serif" font-size="38.5" font-weight="normal" fill="#595959" text-anchor="middle" textLength="39.03" lengthAdjust="spacingAndGlyphs">20</text>
<text x="2237.45" y="1850.3" font-family="Carlito, 'Liberation Sans', sans-serif" font-size="38.5" font-weight="normal" fill="#595959" text-anchor="middle" textLength="39.03" lengthAdjust="spacingAndGlyphs">25</text>
<text x="2401.5" y="1850.3" font-family="Carlito, 'Liberation Sans', sans-serif" font-size="38.5" font-weight="normal" fill="#595959" text-anchor="middle" textLength="39.03" lengthAdjust="spacingAndGlyphs">30</text>
<text x="1380.2" y="1799.6" font-family="Carlito, 'Liberation Sans', sans-serif" font-size="38.5" font-weight="normal" fill="#595959" text-anchor="end" textLength="19.52" lengthAdjust="spacingAndGlyphs">0</text>
<text x="1380.2" y="1682.38" font-family="Carlito, 'Liberation Sans', sans-serif" font-size="38.5" font-weight="normal" fill="#595959" text-anchor="end" textLength="39.03" lengthAdjust="spacingAndGlyphs">40</text>
<text x="1380.2" y="1565.16" font-family="Carlito, 'Liberation Sans', sans-serif" font-size="38.5" font-weight="normal" fill="#595959" text-anchor="end" textLength="39.03" lengthAdjust="spacingAndGlyphs">80</text>
<text x="1380.2" y="1447.94" font-family="Carlito, 'Liberation Sans', sans-serif" font-size="38.5" font-weight="normal" fill="#595959" text-anchor="end" textLength="58.55" lengthAdjust="spacingAndGlyphs">120</text>
<text x="1380.2" y="1330.72" font-family="Carlito, 'Liberation Sans', sans-serif" font-size="38.5" font-weight="normal" fill="#595959" text-anchor="end" textLength="58.55" lengthAdjust="spacingAndGlyphs">160</text>
<text x="1380.2" y="1213.5" font-family="Carlito, 'Liberation Sans', sans-serif" font-size="38.5" font-weight="normal" fill="#595959" text-anchor="end" textLength="58.55" lengthAdjust="spacingAndGlyphs">200</text>
<path d="M1546.8 1614.61L1678.37 1561.87L1777.45 1555.42L1808.95 1456.66L1941.18 1245.37L2236.47 1478.05" fill="none" stroke="#EE9F66" stroke-width="7.2" stroke-linejoin="round" stroke-linecap="round"/>
<rect x="1535.3" y="1603.11" width="23" height="23" fill="#E46C0A" stroke="#2A1606" stroke-width="2.4"/>
<rect x="1666.87" y="1550.37" width="23" height="23" fill="#E46C0A" stroke="#2A1606" stroke-width="2.4"/>
<rect x="1765.95" y="1543.92" width="23" height="23" fill="#E46C0A" stroke="#2A1606" stroke-width="2.4"/>
<rect x="1797.45" y="1445.16" width="23" height="23" fill="#E46C0A" stroke="#2A1606" stroke-width="2.4"/>
<rect x="1929.68" y="1233.87" width="23" height="23" fill="#E46C0A" stroke="#2A1606" stroke-width="2.4"/>
<rect x="2224.97" y="1466.55" width="23" height="23" fill="#E46C0A" stroke="#2A1606" stroke-width="2.4"/>
<path d="M1417.2 1297.53L1564.52 1269.11L1711.83 1236.58L1826.67 1256.8L1925.76 1292.55L1957.91 1310.72L2089.15 1318.05L2137.71 1308.08L2220.06 1308.08" fill="none" stroke="#4F7EBB" stroke-width="7.2" stroke-linejoin="round" stroke-linecap="round"/>
<path d="M1417.2 1285.53L1429.2 1297.53L1417.2 1309.53L1405.2 1297.53Z" fill="#4F81BD" stroke="#142C4E" stroke-width="2" stroke-linejoin="miter"/>
<path d="M1564.52 1257.11L1576.52 1269.11L1564.52 1281.11L1552.52 1269.11Z" fill="#4F81BD" stroke="#142C4E" stroke-width="2" stroke-linejoin="miter"/>
<path d="M1711.83 1224.58L1723.83 1236.58L1711.83 1248.58L1699.83 1236.58Z" fill="#4F81BD" stroke="#142C4E" stroke-width="2" stroke-linejoin="miter"/>
<path d="M1826.67 1244.8L1838.67 1256.8L1826.67 1268.8L1814.67 1256.8Z" fill="#4F81BD" stroke="#142C4E" stroke-width="2" stroke-linejoin="miter"/>
<path d="M1925.76 1280.55L1937.76 1292.55L1925.76 1304.55L1913.76 1292.55Z" fill="#4F81BD" stroke="#142C4E" stroke-width="2" stroke-linejoin="miter"/>
<path d="M1957.91 1298.72L1969.91 1310.72L1957.91 1322.72L1945.91 1310.72Z" fill="#4F81BD" stroke="#142C4E" stroke-width="2" stroke-linejoin="miter"/>
<path d="M2089.15 1306.05L2101.15 1318.05L2089.15 1330.05L2077.15 1318.05Z" fill="#4F81BD" stroke="#142C4E" stroke-width="2" stroke-linejoin="miter"/>
<path d="M2137.71 1296.08L2149.71 1308.08L2137.71 1320.08L2125.71 1308.08Z" fill="#4F81BD" stroke="#142C4E" stroke-width="2" stroke-linejoin="miter"/>
<path d="M2220.06 1296.08L2232.06 1308.08L2220.06 1320.08L2208.06 1308.08Z" fill="#4F81BD" stroke="#142C4E" stroke-width="2" stroke-linejoin="miter"/>
<path d="M1417.2 1420.32L1564.52 1449.92L1695.43 1454.32L1827.33 1454.32L1957.58 1440.84L2006.47 1442.59L2089.15 1470.73L2203.33 1457.25" fill="none" stroke="#7F7F7F" stroke-width="7.2" stroke-linejoin="round" stroke-linecap="round"/>
<path d="M1417.2 1408.32L1429.6 1432.32L1404.8 1432.32Z" fill="#7F7F7F" stroke="#141414" stroke-width="2" stroke-linejoin="miter"/>
<path d="M1564.52 1437.92L1576.92 1461.92L1552.12 1461.92Z" fill="#7F7F7F" stroke="#141414" stroke-width="2" stroke-linejoin="miter"/>
<path d="M1695.43 1442.32L1707.83 1466.32L1683.03 1466.32Z" fill="#7F7F7F" stroke="#141414" stroke-width="2" stroke-linejoin="miter"/>
<path d="M1827.33 1442.32L1839.73 1466.32L1814.92 1466.32Z" fill="#7F7F7F" stroke="#141414" stroke-width="2" stroke-linejoin="miter"/>
<path d="M1957.58 1428.84L1969.98 1452.84L1945.18 1452.84Z" fill="#7F7F7F" stroke="#141414" stroke-width="2" stroke-linejoin="miter"/>
<path d="M2006.47 1430.59L2018.87 1454.59L1994.07 1454.59Z" fill="#7F7F7F" stroke="#141414" stroke-width="2" stroke-linejoin="miter"/>
<path d="M2089.15 1458.73L2101.55 1482.73L2076.75 1482.73Z" fill="#7F7F7F" stroke="#141414" stroke-width="2" stroke-linejoin="miter"/>
<path d="M2203.33 1445.25L2215.73 1469.25L2190.93 1469.25Z" fill="#7F7F7F" stroke="#141414" stroke-width="2" stroke-linejoin="miter"/>
<path d="M1417.2 1573.88L1482.16 1588.24L1546.8 1538.13L1678.37 1516.44L1808.95 1486.84L1842.42 1488.31L1941.18 1486.84L2072.42 1493.29L2203.33 1475.12" fill="none" stroke="#EFBF1E" stroke-width="7.2" stroke-linejoin="round" stroke-linecap="round"/>
<circle cx="1417.2" cy="1573.88" r="11.75" fill="#FFC000" stroke="#2E2400" stroke-width="2.2"/>
<circle cx="1482.16" cy="1588.24" r="11.75" fill="#FFC000" stroke="#2E2400" stroke-width="2.2"/>
<circle cx="1546.8" cy="1538.13" r="11.75" fill="#FFC000" stroke="#2E2400" stroke-width="2.2"/>
<circle cx="1678.37" cy="1516.44" r="11.75" fill="#FFC000" stroke="#2E2400" stroke-width="2.2"/>
<circle cx="1808.95" cy="1486.84" r="11.75" fill="#FFC000" stroke="#2E2400" stroke-width="2.2"/>
<circle cx="1842.42" cy="1488.31" r="11.75" fill="#FFC000" stroke="#2E2400" stroke-width="2.2"/>
<circle cx="1941.18" cy="1486.84" r="11.75" fill="#FFC000" stroke="#2E2400" stroke-width="2.2"/>
<circle cx="2072.42" cy="1493.29" r="11.75" fill="#FFC000" stroke="#2E2400" stroke-width="2.2"/>
<circle cx="2203.33" cy="1475.12" r="11.75" fill="#FFC000" stroke="#2E2400" stroke-width="2.2"/>
<path d="M1419.2 1604.06H2392" stroke="#55262F" stroke-width="4.4" stroke-linecap="round" stroke-dasharray="0 12.45" fill="none"/>
<rect x="2238.4" y="1168.1" width="238.1" height="236.3" fill="#fff" stroke="#7F7F7F" stroke-width="2.2"/>
<path d="M2254 1191.9H2344" stroke="#EE9F66" stroke-width="7.2" stroke-linecap="round"/>
<rect x="2287.9" y="1181.9" width="20" height="20" fill="#E46C0A" stroke="#2A1606" stroke-width="2.2"/>
<text x="2354.5" y="1203.4" font-family="Carlito, 'Liberation Sans', sans-serif" font-size="35.5" font-weight="normal" fill="#595959" text-anchor="start" textLength="37.31" lengthAdjust="spacingAndGlyphs">B5</text>
<path d="M2254 1239.5H2344" stroke="#4F7EBB" stroke-width="7.2" stroke-linecap="round"/>
<path d="M2297.9 1229.5L2307.9 1239.5L2297.9 1249.5L2287.9 1239.5Z" fill="#4F81BD" stroke="#142C4E" stroke-width="2" stroke-linejoin="miter"/>
<text x="2354.5" y="1251" font-family="Carlito, 'Liberation Sans', sans-serif" font-size="35.5" font-weight="normal" fill="#595959" text-anchor="start" textLength="36.92" lengthAdjust="spacingAndGlyphs">C6</text>
<path d="M2254 1286.3H2344" stroke="#7F7F7F" stroke-width="7.2" stroke-linecap="round"/>
<path d="M2297.9 1276.8L2307.9 1295.8L2287.9 1295.8Z" fill="#7F7F7F" stroke="#141414" stroke-width="2" stroke-linejoin="miter"/>
<text x="2354.5" y="1297.8" font-family="Carlito, 'Liberation Sans', sans-serif" font-size="35.5" font-weight="normal" fill="#595959" text-anchor="start" textLength="39.84" lengthAdjust="spacingAndGlyphs">D3</text>
<path d="M2254 1333.3H2344" stroke="#EFBF1E" stroke-width="7.2" stroke-linecap="round"/>
<circle cx="2297.9" cy="1333.3" r="9.5" fill="#FFC000" stroke="#2E2400" stroke-width="2"/>
<text x="2354.5" y="1344.8" font-family="Carlito, 'Liberation Sans', sans-serif" font-size="35.5" font-weight="normal" fill="#595959" text-anchor="start" textLength="39.84" lengthAdjust="spacingAndGlyphs">D5</text>
<path d="M2252 1380.9H2343.5" stroke="#55262F" stroke-width="4.4" stroke-linecap="round" stroke-dasharray="0 12.95"/>
<text x="2354.5" y="1392.4" font-family="Carlito, 'Liberation Sans', sans-serif" font-size="35.5" font-weight="normal" fill="#595959" text-anchor="start" textLength="111.27" lengthAdjust="spacingAndGlyphs">hypoxia</text>
<rect x="2394" y="1419.6" width="79.5" height="74.1" fill="#fff" stroke="#000" stroke-width="1.8"/>
<text x="2433.3" y="1478" font-family="'Liberation Sans', Arial, sans-serif" font-size="44" font-weight="bold" fill="#000" text-anchor="middle">d</text>
</g>
</svg>
</body></html>
